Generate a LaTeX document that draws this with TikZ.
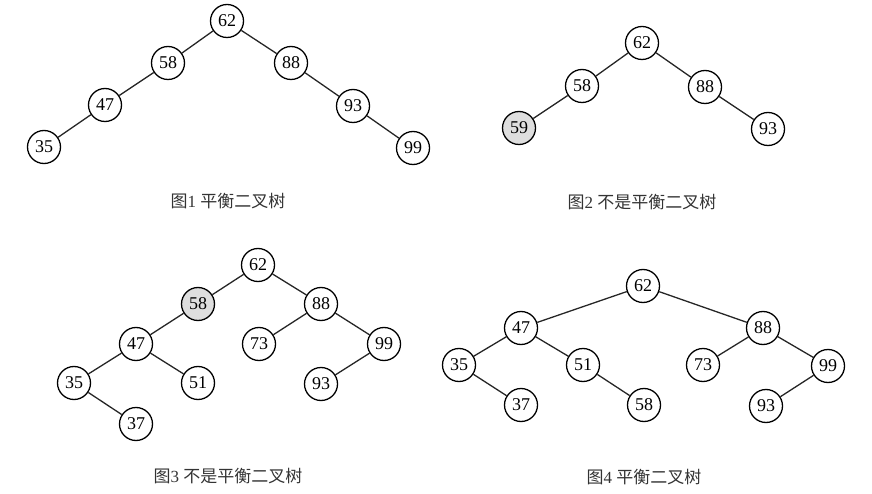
\documentclass[tikz,border=0pt]{standalone}
\usepackage{fontspec}
\setmainfont{Liberation Serif}
\newfontfamily\cjk{Noto Sans CJK SC}
\begin{document}
\begin{tikzpicture}[x=1pt,y=-1pt,
  tn/.style={circle,draw=black,line width=1.3pt,minimum size=33pt,inner sep=0pt,fill=white,font=\fontsize{18}{18}\selectfont},
  hl/.style={tn,fill=black!13},
  edge/.style={draw=black!85,line width=1.3pt},
  captxt/.style={font=\fontsize{17}{17}\selectfont,text=black!80}]
\useasboundingbox (0,0) rectangle (872,494);
% Figure 1
\node[tn] (a62) at (227,21) {62};
\node[tn] (a58) at (168,63) {58};
\node[tn] (a88) at (291,63) {88};
\node[tn] (a47) at (105,105) {47};
\node[tn] (a93) at (353,106) {93};
\node[tn] (a35) at (44,147) {35};
\node[tn] (a99) at (413,148) {99};
\draw[edge] (a62)--(a58) (a62)--(a88) (a58)--(a47) (a47)--(a35) (a88)--(a93) (a93)--(a99);
\node[captxt] (c1) at (228,201) {{\cjk 图}1 {\cjk 平衡二叉树}};
% Figure 2
\node[tn] (b62) at (642,43) {62};
\node[tn] (b58) at (582,86) {58};
\node[tn] (b88) at (705,87) {88};
\node[hl] (b59) at (519,128) {59};
\node[tn] (b93) at (768,129) {93};
\draw[edge] (b62)--(b58) (b62)--(b88) (b58)--(b59) (b88)--(b93);
\node[captxt] (c2) at (642,202) {{\cjk 图}2 {\cjk 不是平衡二叉树}};
% Figure 3
\node[tn] (d62) at (258,265) {62};
\node[hl] (d58) at (198,304) {58};
\node[tn] (d88) at (321,304) {88};
\node[tn] (d47) at (136,344) {47};
\node[tn] (d73) at (259,344) {73};
\node[tn] (d99) at (384,344) {99};
\node[tn] (d35) at (74,383) {35};
\node[tn] (d51) at (198,383) {51};
\node[tn] (d93) at (321,384) {93};
\node[tn] (d37) at (136,424) {37};
\draw[edge] (d62)--(d58) (d62)--(d88) (d58)--(d47) (d47)--(d35) (d47)--(d51) (d35)--(d37)
  (d88)--(d73) (d88)--(d99) (d99)--(d93);
\node[captxt] (c3) at (228,476) {{\cjk 图}3 {\cjk 不是平衡二叉树}};
% Figure 4
\node[tn] (e62) at (643,286) {62};
\node[tn] (e47) at (521,328) {47};
\node[tn] (e88) at (763,328) {88};
\node[tn] (e35) at (459,365) {35};
\node[tn] (e51) at (583,365) {51};
\node[tn] (e73) at (703,365) {73};
\node[tn] (e99) at (828,366) {99};
\node[tn] (e37) at (521,405) {37};
\node[tn] (e58) at (644,405) {58};
\node[tn] (e93) at (766,406) {93};
\draw[edge] (e62)--(e47) (e62)--(e88) (e47)--(e35) (e47)--(e51) (e35)--(e37) (e51)--(e58)
  (e88)--(e73) (e88)--(e99) (e99)--(e93);
\node[captxt] (c4) at (644,477) {{\cjk 图}4 {\cjk 平衡二叉树}};
\end{tikzpicture}
\end{document}
